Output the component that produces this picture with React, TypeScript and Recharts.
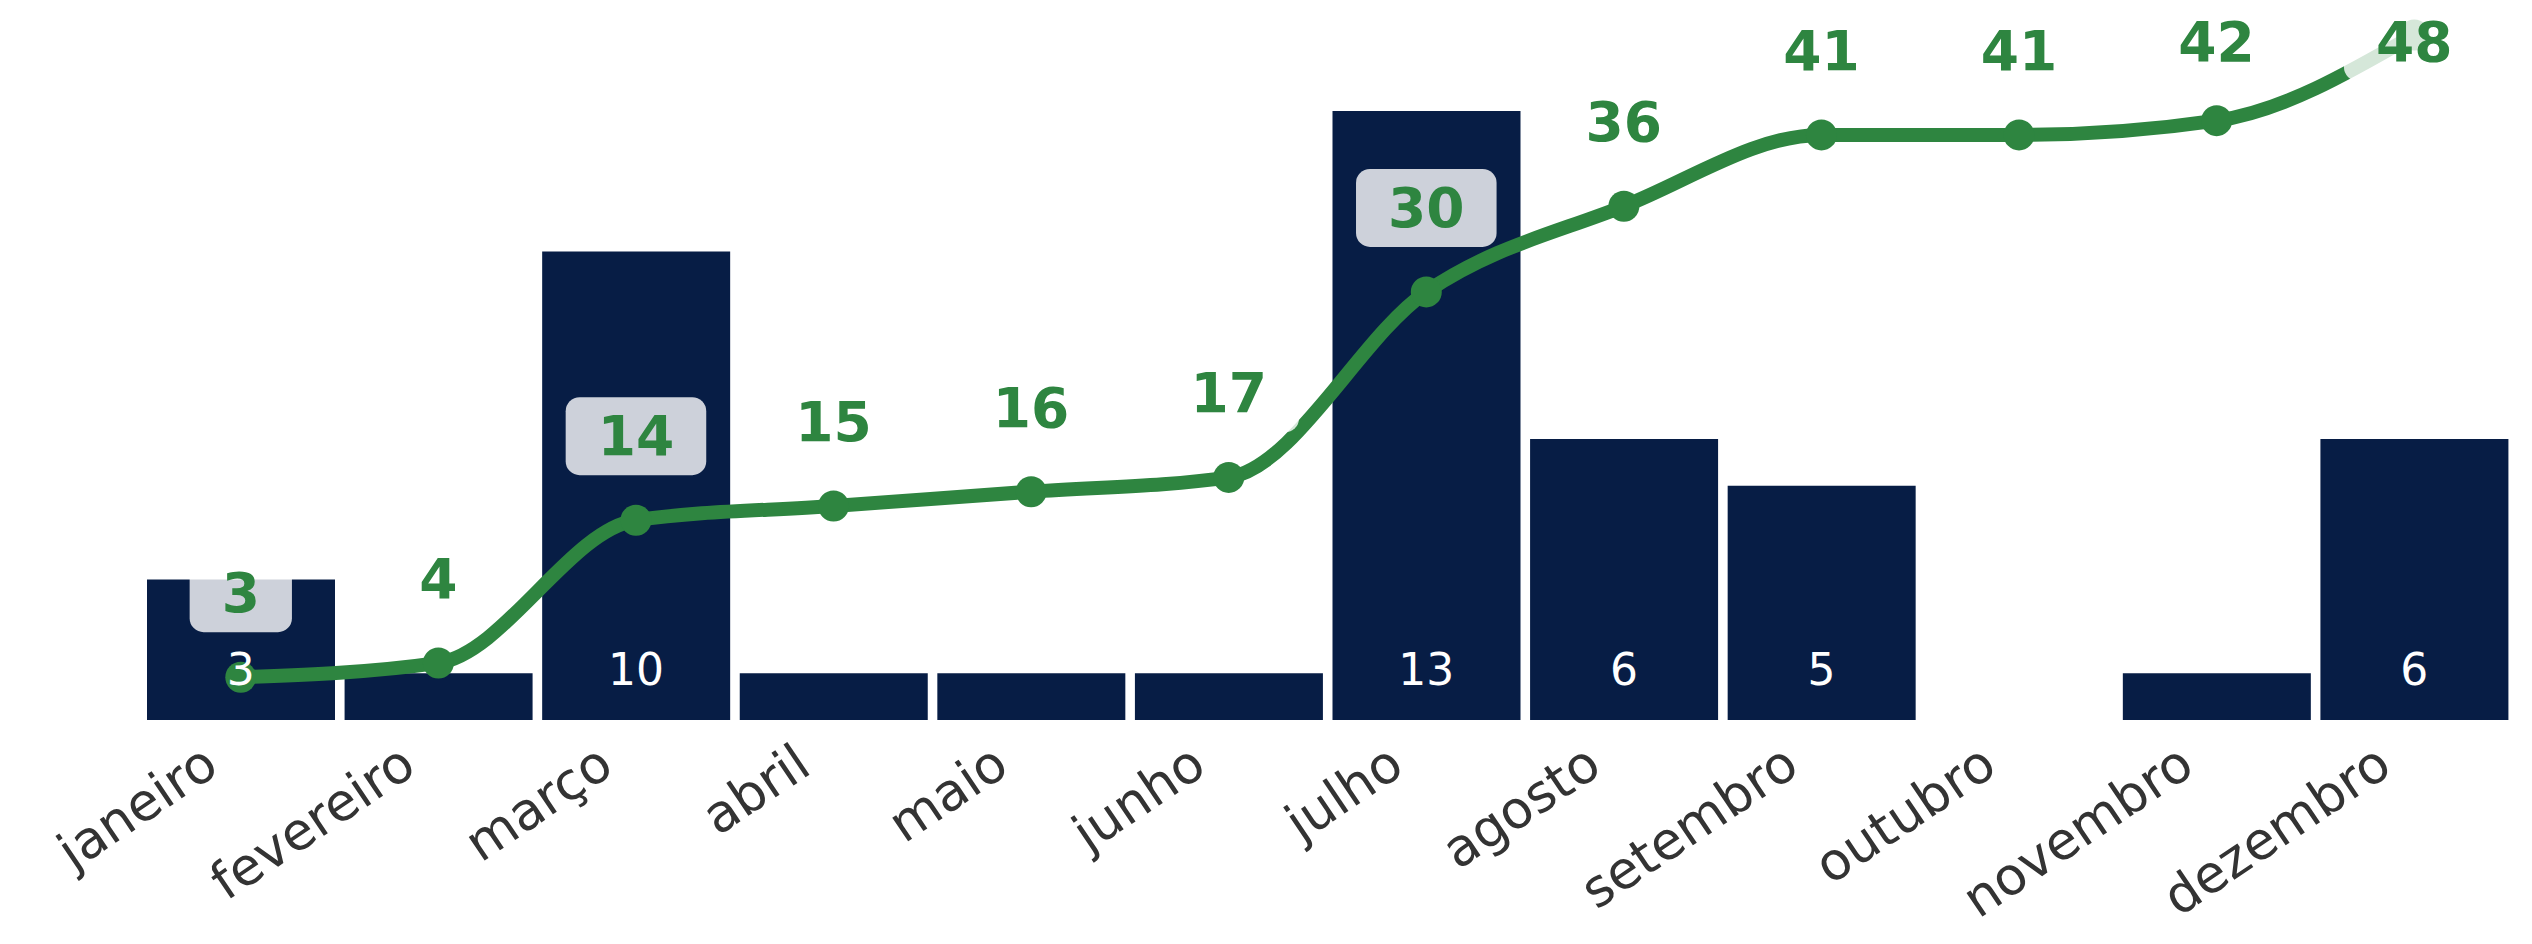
import React from 'react';
import { ComposedChart, Bar, Line, XAxis, YAxis, LabelList } from 'recharts';

const months = ['janeiro', 'fevereiro', 'março', 'abril', 'maio', 'junho', 'julho', 'agosto', 'setembro', 'outubro', 'novembro', 'dezembro'];
const monthly = [3, 1, 10, 1, 1, 1, 13, 6, 5, 0, 1, 6];
const cumulative = [3, 4, 14, 15, 16, 17, 30, 36, 41, 41, 42, 48];

const data = months.map((m, i) => ({ month: m, monthly: monthly[i], cumulative: cumulative[i] }));

const NAVY = '#071d45';
const GREEN = '#2e8540';
const FONT = '"DejaVu Sans", Verdana, sans-serif';

const CumLabel = (props: any) => {
  const { x, y, value, index } = props;
  if (value == null) return null;
  const cy = Math.max(y - 85, 41);
  const txt = String(value);
  const w = 0.696 * 55 * txt.length + 64;
  const h = 78;
  return (
    <g key={`cl-${index}`}>
      <rect x={x - w / 2} y={cy - h / 2 + 1} width={w} height={h} rx={14} ry={14} fill="rgba(255,255,255,0.8)" />
      <text x={x} y={cy + 20} textAnchor="middle" fill={GREEN} fontFamily={FONT} fontWeight="bold" fontSize={55}>
        {txt}
      </text>
    </g>
  );
};

const BarValueLabel = (props: any) => {
  const { x, y, value, index } = props;
  if (value == null || value < 2) return null;
  return (
    <text key={`bl-${index}`} x={x} y={y - 35} textAnchor="middle" fill="#ffffff" fontFamily={FONT} fontSize={44}>
      {value}
    </text>
  );
};

const Dot = (props: any) => {
  const { cx, cy, index } = props;
  if (cx == null || cy == null) return null;
  return <circle key={`d-${index}`} cx={cx} cy={cy} r={15.5} fill={GREEN} />;
};

const Tick = (props: any) => {
  const { x, payload } = props;
  return (
    <g transform={`translate(${x - 20},772)`}>
      <text x={0} y={0} transform="rotate(-34)" textAnchor="end" fill="#333333" fontFamily={FONT} fontSize={52}>
        {payload.value}
      </text>
    </g>
  );
};

export default function App() {
  return (
    <div style={{ position: 'absolute', left: 0, top: 0, width: 2532, height: 944, background: '#fff' }}>
      <ComposedChart
        width={2532}
        height={944}
        data={data}
        margin={{ top: 35, right: 19, bottom: 164, left: 142 }}
      >
        <XAxis dataKey="month" height={60} axisLine={false} tickLine={false} tick={<Tick />} interval={0} />
        <YAxis yAxisId="bar" hide domain={[0, 14.62]} />
        <YAxis yAxisId="cum" hide domain={[0, 48]} orientation="right" />
        <Bar yAxisId="bar" dataKey="monthly" fill={NAVY} barSize={188} isAnimationActive={false} />
        <Line
          yAxisId="cum"
          dataKey="cumulative"
          type="monotone"
          stroke={GREEN}
          strokeWidth={14}
          dot={<Dot />}
          activeDot={false}
          isAnimationActive={false}
        >
          <LabelList dataKey="cumulative" content={<CumLabel />} />
        </Line>
        <Line
          yAxisId="bar"
          dataKey={() => 0}
          stroke="none"
          dot={false}
          activeDot={false}
          isAnimationActive={false}
        >
          <LabelList dataKey="monthly" content={<BarValueLabel />} />
        </Line>
      </ComposedChart>
    </div>
  );
}
